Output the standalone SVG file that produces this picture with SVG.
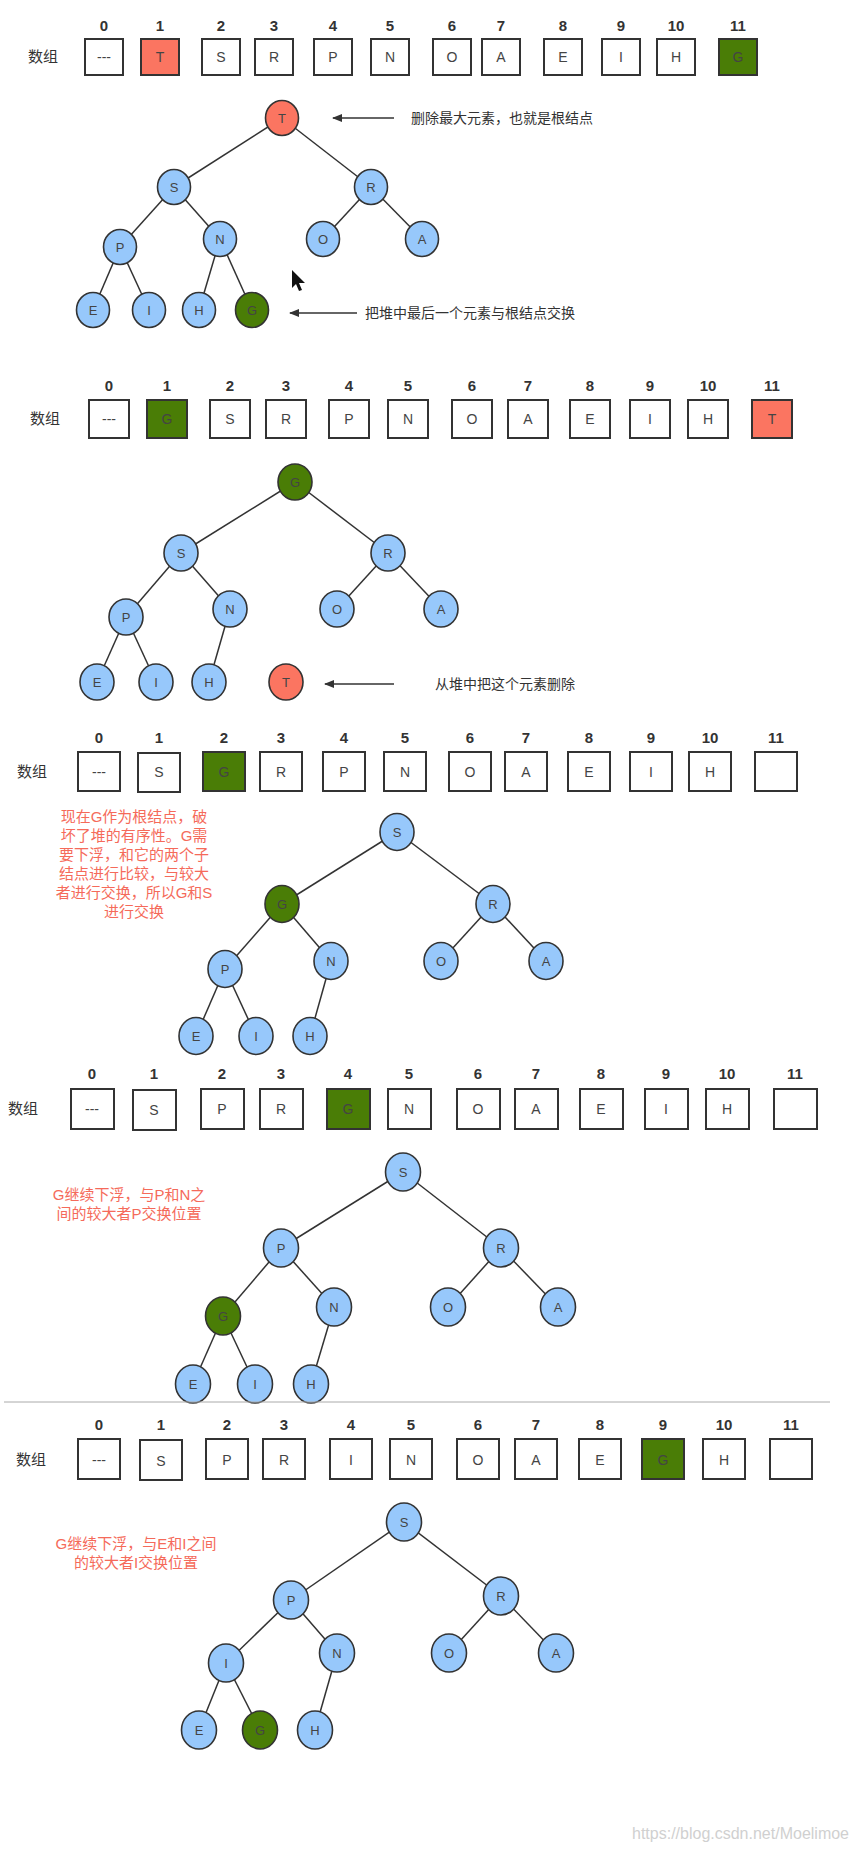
<svg xmlns="http://www.w3.org/2000/svg" width="849" height="1852" viewBox="0 0 849 1852">
<style>
text{font-family:"Liberation Sans","Noto Sans CJK SC",sans-serif;fill:#333}
.idx{font-size:15px;font-weight:bold;text-anchor:middle}
.lbl{font-size:15px}
.bx{fill:#fff;stroke:#333;stroke-width:2}
.bx.g{fill:#4a7d06}.bx.r{fill:#fb7561}
.bt{font-size:14px;text-anchor:middle;dominant-baseline:central;fill:#444}
.n{stroke:#333;stroke-width:1.6;fill:#97c8fb}
.n.g{fill:#4a7d06}.n.r{fill:#fb7561}
.nt{font-size:13px;text-anchor:middle;dominant-baseline:central;fill:#444}
.e line{stroke:#333;stroke-width:1.5}
.ar{stroke:#333;stroke-width:2;marker-end:url(#ah)}
.note{font-size:14px;fill:#333}
.red{font-size:15px;fill:#f56a5a;text-anchor:middle}
</style>
<defs><marker id="ah" markerWidth="10" markerHeight="8" refX="9" refY="4" orient="auto" markerUnits="userSpaceOnUse"><path d="M0,0 L10,4 L0,8 z" fill="#333"/></marker></defs>

<!-- Section 1 -->
<g id="s1-array">
<text class="lbl" x="28" y="62">数组</text>
<g class="idx-row"><text class="idx" x="104" y="31">0</text><text class="idx" x="160" y="31">1</text><text class="idx" x="221" y="31">2</text><text class="idx" x="274" y="31">3</text><text class="idx" x="333" y="31">4</text><text class="idx" x="390" y="31">5</text><text class="idx" x="452" y="31">6</text><text class="idx" x="501" y="31">7</text><text class="idx" x="563" y="31">8</text><text class="idx" x="621" y="31" font-weight="normal">9</text><text class="idx" x="676" y="31">10</text><text class="idx" x="738" y="31">11</text></g>
<rect class="bx" x="85" y="39" width="38" height="36"/><text class="bt" x="104" y="57">---</text>
<rect class="bx r" x="141" y="39" width="38" height="36"/><text class="bt" x="160" y="57">T</text>
<rect class="bx" x="202" y="39" width="38" height="36"/><text class="bt" x="221" y="57">S</text>
<rect class="bx" x="255" y="39" width="38" height="36"/><text class="bt" x="274" y="57">R</text>
<rect class="bx" x="314" y="39" width="38" height="36"/><text class="bt" x="333" y="57">P</text>
<rect class="bx" x="371" y="39" width="38" height="36"/><text class="bt" x="390" y="57">N</text>
<rect class="bx" x="433" y="39" width="38" height="36"/><text class="bt" x="452" y="57">O</text>
<rect class="bx" x="482" y="39" width="38" height="36"/><text class="bt" x="501" y="57">A</text>
<rect class="bx" x="544" y="39" width="38" height="36"/><text class="bt" x="563" y="57">E</text>
<rect class="bx" x="602" y="39" width="38" height="36"/><text class="bt" x="621" y="57">I</text>
<rect class="bx" x="657" y="39" width="38" height="36"/><text class="bt" x="676" y="57">H</text>
<rect class="bx g" x="719" y="39" width="38" height="36"/><text class="bt" x="738" y="57">G</text>
</g>
<g id="s1-edges" class="e">
<line x1="282" y1="118" x2="174" y2="187"/><line x1="282" y1="118" x2="371" y2="187"/>
<line x1="174" y1="187" x2="120" y2="247"/><line x1="174" y1="187" x2="220" y2="239"/>
<line x1="371" y1="187" x2="323" y2="239"/><line x1="371" y1="187" x2="422" y2="239"/>
<line x1="120" y1="247" x2="93" y2="310"/><line x1="120" y1="247" x2="149" y2="310"/>
<line x1="220" y1="239" x2="199" y2="310"/><line x1="220" y1="239" x2="252" y2="310"/>
<line class="ar" x1="394" y1="118" x2="333" y2="118"/><line class="ar" x1="357" y1="313" x2="290" y2="313"/>
</g>
<g id="s1-nodes">
<g id="s1-T"><ellipse class="n r" cx="282" cy="118" rx="16.5" ry="17.5"/><text class="nt" x="282" y="118">T</text></g>
<g id="s1-S"><ellipse class="n" cx="174" cy="187" rx="16.5" ry="17.5"/><text class="nt" x="174" y="187">S</text></g>
<g id="s1-R"><ellipse class="n" cx="371" cy="187" rx="16.5" ry="17.5"/><text class="nt" x="371" y="187">R</text></g>
<g id="s1-P"><ellipse class="n" cx="120" cy="247" rx="16.5" ry="17.5"/><text class="nt" x="120" y="247">P</text></g>
<g id="s1-N"><ellipse class="n" cx="220" cy="239" rx="16.5" ry="17.5"/><text class="nt" x="220" y="239">N</text></g>
<g id="s1-O"><ellipse class="n" cx="323" cy="239" rx="16.5" ry="17.5"/><text class="nt" x="323" y="239">O</text></g>
<g id="s1-A"><ellipse class="n" cx="422" cy="239" rx="16.5" ry="17.5"/><text class="nt" x="422" y="239">A</text></g>
<g id="s1-E"><ellipse class="n" cx="93" cy="310" rx="16.5" ry="17.5"/><text class="nt" x="93" y="310">E</text></g>
<g id="s1-I"><ellipse class="n" cx="149" cy="310" rx="16.5" ry="17.5"/><text class="nt" x="149" y="310">I</text></g>
<g id="s1-H"><ellipse class="n" cx="199" cy="310" rx="16.5" ry="17.5"/><text class="nt" x="199" y="310">H</text></g>
<g id="s1-G"><ellipse class="n g" cx="252" cy="310" rx="16.5" ry="17.5"/><text class="nt" x="252" y="310">G</text></g>
</g>
<text class="note" x="411" y="123">删除最大元素，也就是根结点</text>
<text class="note" x="365" y="318" font-size="13">把堆中最后一个元素与根结点交换</text>
<path d="M292,270 L292,288 L296,284 L299,291 L302,290 L299,283 L305,283 Z" fill="#111"/>

<!-- Section 2 -->
<g id="s2-array">
<text class="lbl" x="30" y="424">数组</text>
<g><text class="idx" x="109" y="391">0</text><text class="idx" x="167" y="391">1</text><text class="idx" x="230" y="391">2</text><text class="idx" x="286" y="391">3</text><text class="idx" x="349" y="391">4</text><text class="idx" x="408" y="391">5</text><text class="idx" x="472" y="391">6</text><text class="idx" x="528" y="391">7</text><text class="idx" x="590" y="391">8</text><text class="idx" x="650" y="391" font-weight="normal">9</text><text class="idx" x="708" y="391">10</text><text class="idx" x="772" y="391">11</text></g>
<rect class="bx" x="89" y="400" width="40" height="38"/><text class="bt" x="109" y="419">---</text>
<rect class="bx g" x="147" y="400" width="40" height="38"/><text class="bt" x="167" y="419">G</text>
<rect class="bx" x="210" y="400" width="40" height="38"/><text class="bt" x="230" y="419">S</text>
<rect class="bx" x="266" y="400" width="40" height="38"/><text class="bt" x="286" y="419">R</text>
<rect class="bx" x="329" y="400" width="40" height="38"/><text class="bt" x="349" y="419">P</text>
<rect class="bx" x="388" y="400" width="40" height="38"/><text class="bt" x="408" y="419">N</text>
<rect class="bx" x="452" y="400" width="40" height="38"/><text class="bt" x="472" y="419">O</text>
<rect class="bx" x="508" y="400" width="40" height="38"/><text class="bt" x="528" y="419">A</text>
<rect class="bx" x="570" y="400" width="40" height="38"/><text class="bt" x="590" y="419">E</text>
<rect class="bx" x="630" y="400" width="40" height="38"/><text class="bt" x="650" y="419">I</text>
<rect class="bx" x="688" y="400" width="40" height="38"/><text class="bt" x="708" y="419">H</text>
<rect class="bx r" x="752" y="400" width="40" height="38"/><text class="bt" x="772" y="419">T</text>
</g>
<g id="s2-edges" class="e">
<line x1="295" y1="482" x2="181" y2="553"/><line x1="295" y1="482" x2="388" y2="553"/>
<line x1="181" y1="553" x2="126" y2="617"/><line x1="181" y1="553" x2="230" y2="609"/>
<line x1="388" y1="553" x2="337" y2="609"/><line x1="388" y1="553" x2="441" y2="609"/>
<line x1="126" y1="617" x2="97" y2="682"/><line x1="126" y1="617" x2="156" y2="682"/>
<line x1="230" y1="609" x2="209" y2="682"/>
<line class="ar" x1="394" y1="684" x2="325" y2="684"/>
</g>
<g id="s2-nodes">
<g id="s2-G"><ellipse class="n g" cx="295" cy="482" rx="17" ry="18"/><text class="nt" x="295" y="482">G</text></g>
<g id="s2-S"><ellipse class="n" cx="181" cy="553" rx="17" ry="18"/><text class="nt" x="181" y="553">S</text></g>
<g id="s2-R"><ellipse class="n" cx="388" cy="553" rx="17" ry="18"/><text class="nt" x="388" y="553">R</text></g>
<g id="s2-P"><ellipse class="n" cx="126" cy="617" rx="17" ry="18"/><text class="nt" x="126" y="617">P</text></g>
<g id="s2-N"><ellipse class="n" cx="230" cy="609" rx="17" ry="18"/><text class="nt" x="230" y="609">N</text></g>
<g id="s2-O"><ellipse class="n" cx="337" cy="609" rx="17" ry="18"/><text class="nt" x="337" y="609">O</text></g>
<g id="s2-A"><ellipse class="n" cx="441" cy="609" rx="17" ry="18"/><text class="nt" x="441" y="609">A</text></g>
<g id="s2-E"><ellipse class="n" cx="97" cy="682" rx="17" ry="18"/><text class="nt" x="97" y="682">E</text></g>
<g id="s2-I"><ellipse class="n" cx="156" cy="682" rx="17" ry="18"/><text class="nt" x="156" y="682">I</text></g>
<g id="s2-H"><ellipse class="n" cx="209" cy="682" rx="17" ry="18"/><text class="nt" x="209" y="682">H</text></g>
<g id="s2-T"><ellipse class="n r" cx="286" cy="682" rx="17" ry="18"/><text class="nt" x="286" y="682">T</text></g>
</g>
<text class="note" x="435" y="689" font-size="13">从堆中把这个元素删除</text>

<!-- Section 3 -->
<g id="s3-array">
<text class="lbl" x="17" y="777">数组</text>
<g><text class="idx" x="99" y="743">0</text><text class="idx" x="159" y="743">1</text><text class="idx" x="224" y="743">2</text><text class="idx" x="281" y="743">3</text><text class="idx" x="344" y="743">4</text><text class="idx" x="405" y="743">5</text><text class="idx" x="470" y="743">6</text><text class="idx" x="526" y="743">7</text><text class="idx" x="589" y="743">8</text><text class="idx" x="651" y="743" font-weight="normal">9</text><text class="idx" x="710" y="743">10</text><text class="idx" x="776" y="743">11</text></g>
<rect class="bx" x="78" y="752" width="42" height="39"/><text class="bt" x="99" y="772">---</text>
<rect class="bx" x="138" y="753" width="42" height="39"/><text class="bt" x="159" y="772">S</text>
<rect class="bx g" x="203" y="752" width="42" height="39"/><text class="bt" x="224" y="772">G</text>
<rect class="bx" x="260" y="752" width="42" height="39"/><text class="bt" x="281" y="772">R</text>
<rect class="bx" x="323" y="752" width="42" height="39"/><text class="bt" x="344" y="772">P</text>
<rect class="bx" x="384" y="752" width="42" height="39"/><text class="bt" x="405" y="772">N</text>
<rect class="bx" x="449" y="752" width="42" height="39"/><text class="bt" x="470" y="772">O</text>
<rect class="bx" x="505" y="752" width="42" height="39"/><text class="bt" x="526" y="772">A</text>
<rect class="bx" x="568" y="752" width="42" height="39"/><text class="bt" x="589" y="772">E</text>
<rect class="bx" x="630" y="752" width="42" height="39"/><text class="bt" x="651" y="772">I</text>
<rect class="bx" x="689" y="752" width="42" height="39"/><text class="bt" x="710" y="772">H</text>
<rect class="bx" x="755" y="752" width="42" height="39"/>
</g>
<g id="s3-edges" class="e">
<line x1="397" y1="832" x2="282" y2="904"/><line x1="397" y1="832" x2="493" y2="904"/>
<line x1="282" y1="904" x2="225" y2="969"/><line x1="282" y1="904" x2="331" y2="961"/>
<line x1="493" y1="904" x2="441" y2="961"/><line x1="493" y1="904" x2="546" y2="961"/>
<line x1="225" y1="969" x2="196" y2="1036"/><line x1="225" y1="969" x2="256" y2="1036"/>
<line x1="331" y1="961" x2="310" y2="1036"/>
</g>
<g id="s3-nodes">
<g id="s3-S"><ellipse class="n" cx="397" cy="832" rx="17" ry="18.5"/><text class="nt" x="397" y="832">S</text></g>
<g id="s3-G"><ellipse class="n g" cx="282" cy="904" rx="17" ry="18.5"/><text class="nt" x="282" y="904">G</text></g>
<g id="s3-R"><ellipse class="n" cx="493" cy="904" rx="17" ry="18.5"/><text class="nt" x="493" y="904">R</text></g>
<g id="s3-P"><ellipse class="n" cx="225" cy="969" rx="17" ry="18.5"/><text class="nt" x="225" y="969">P</text></g>
<g id="s3-N"><ellipse class="n" cx="331" cy="961" rx="17" ry="18.5"/><text class="nt" x="331" y="961">N</text></g>
<g id="s3-O"><ellipse class="n" cx="441" cy="961" rx="17" ry="18.5"/><text class="nt" x="441" y="961">O</text></g>
<g id="s3-A"><ellipse class="n" cx="546" cy="961" rx="17" ry="18.5"/><text class="nt" x="546" y="961">A</text></g>
<g id="s3-E"><ellipse class="n" cx="196" cy="1036" rx="17" ry="18.5"/><text class="nt" x="196" y="1036">E</text></g>
<g id="s3-I"><ellipse class="n" cx="256" cy="1036" rx="17" ry="18.5"/><text class="nt" x="256" y="1036">I</text></g>
<g id="s3-H"><ellipse class="n" cx="310" cy="1036" rx="17" ry="18.5"/><text class="nt" x="310" y="1036">H</text></g>
</g>
<text class="red" x="134"><tspan x="134" y="822">现在G作为根结点，破</tspan><tspan x="134" y="841">坏了堆的有序性。G需</tspan><tspan x="134" y="860">要下浮，和它的两个子</tspan><tspan x="134" y="879">结点进行比较，与较大</tspan><tspan x="134" y="898">者进行交换，所以G和S</tspan><tspan x="134" y="917">进行交换</tspan></text>

<!-- Section 4 -->
<g id="s4-array">
<text class="lbl" x="8" y="1114">数组</text>
<g><text class="idx" x="92" y="1079">0</text><text class="idx" x="154" y="1079">1</text><text class="idx" x="222" y="1079">2</text><text class="idx" x="281" y="1079">3</text><text class="idx" x="348" y="1079">4</text><text class="idx" x="409" y="1079">5</text><text class="idx" x="478" y="1079">6</text><text class="idx" x="536" y="1079">7</text><text class="idx" x="601" y="1079">8</text><text class="idx" x="666" y="1079" font-weight="normal">9</text><text class="idx" x="727" y="1079">10</text><text class="idx" x="795" y="1079">11</text></g>
<rect class="bx" x="71" y="1089" width="43" height="40"/><text class="bt" x="92" y="1109">---</text>
<rect class="bx" x="133" y="1090" width="43" height="40"/><text class="bt" x="154" y="1110">S</text>
<rect class="bx" x="201" y="1089" width="43" height="40"/><text class="bt" x="222" y="1109">P</text>
<rect class="bx" x="260" y="1089" width="43" height="40"/><text class="bt" x="281" y="1109">R</text>
<rect class="bx g" x="327" y="1089" width="43" height="40"/><text class="bt" x="348" y="1109">G</text>
<rect class="bx" x="388" y="1089" width="43" height="40"/><text class="bt" x="409" y="1109">N</text>
<rect class="bx" x="457" y="1089" width="43" height="40"/><text class="bt" x="478" y="1109">O</text>
<rect class="bx" x="515" y="1089" width="43" height="40"/><text class="bt" x="536" y="1109">A</text>
<rect class="bx" x="580" y="1089" width="43" height="40"/><text class="bt" x="601" y="1109">E</text>
<rect class="bx" x="645" y="1089" width="43" height="40"/><text class="bt" x="666" y="1109">I</text>
<rect class="bx" x="706" y="1089" width="43" height="40"/><text class="bt" x="727" y="1109">H</text>
<rect class="bx" x="774" y="1089" width="43" height="40"/>
</g>
<g id="s4-edges" class="e">
<line x1="403" y1="1172" x2="281" y2="1248"/><line x1="403" y1="1172" x2="501" y2="1248"/>
<line x1="281" y1="1248" x2="223" y2="1316"/><line x1="281" y1="1248" x2="334" y2="1307"/>
<line x1="501" y1="1248" x2="448" y2="1307"/><line x1="501" y1="1248" x2="558" y2="1307"/>
<line x1="223" y1="1316" x2="193" y2="1384"/><line x1="223" y1="1316" x2="255" y2="1384"/>
<line x1="334" y1="1307" x2="311" y2="1384"/>
</g>
<g id="s4-nodes">
<g id="s4-S"><ellipse class="n" cx="403" cy="1172" rx="17.5" ry="19"/><text class="nt" x="403" y="1172">S</text></g>
<g id="s4-P"><ellipse class="n" cx="281" cy="1248" rx="17.5" ry="19"/><text class="nt" x="281" y="1248">P</text></g>
<g id="s4-R"><ellipse class="n" cx="501" cy="1248" rx="17.5" ry="19"/><text class="nt" x="501" y="1248">R</text></g>
<g id="s4-G"><ellipse class="n g" cx="223" cy="1316" rx="17.5" ry="19"/><text class="nt" x="223" y="1316">G</text></g>
<g id="s4-N"><ellipse class="n" cx="334" cy="1307" rx="17.5" ry="19"/><text class="nt" x="334" y="1307">N</text></g>
<g id="s4-O"><ellipse class="n" cx="448" cy="1307" rx="17.5" ry="19"/><text class="nt" x="448" y="1307">O</text></g>
<g id="s4-A"><ellipse class="n" cx="558" cy="1307" rx="17.5" ry="19"/><text class="nt" x="558" y="1307">A</text></g>
<g id="s4-E"><ellipse class="n" cx="193" cy="1384" rx="17.5" ry="19"/><text class="nt" x="193" y="1384">E</text></g>
<g id="s4-I"><ellipse class="n" cx="255" cy="1384" rx="17.5" ry="19"/><text class="nt" x="255" y="1384">I</text></g>
<g id="s4-H"><ellipse class="n" cx="311" cy="1384" rx="17.5" ry="19"/><text class="nt" x="311" y="1384">H</text></g>
</g>
<text class="red"><tspan x="129" y="1200">G继续下浮，与P和N之</tspan><tspan x="129" y="1219">间的较大者P交换位置</tspan></text>

<line x1="4" y1="1402" x2="830" y2="1402" stroke="#aaa" stroke-width="1"/>

<!-- Section 5 -->
<g id="s5-array">
<text class="lbl" x="16" y="1465">数组</text>
<g><text class="idx" x="99" y="1430">0</text><text class="idx" x="161" y="1430">1</text><text class="idx" x="227" y="1430">2</text><text class="idx" x="284" y="1430">3</text><text class="idx" x="351" y="1430">4</text><text class="idx" x="411" y="1430">5</text><text class="idx" x="478" y="1430">6</text><text class="idx" x="536" y="1430">7</text><text class="idx" x="600" y="1430">8</text><text class="idx" x="663" y="1430" font-weight="normal">9</text><text class="idx" x="724" y="1430">10</text><text class="idx" x="791" y="1430">11</text></g>
<rect class="bx" x="78" y="1439" width="42" height="40"/><text class="bt" x="99" y="1460">---</text>
<rect class="bx" x="140" y="1440" width="42" height="40"/><text class="bt" x="161" y="1461">S</text>
<rect class="bx" x="206" y="1439" width="42" height="40"/><text class="bt" x="227" y="1460">P</text>
<rect class="bx" x="263" y="1439" width="42" height="40"/><text class="bt" x="284" y="1460">R</text>
<rect class="bx" x="330" y="1439" width="42" height="40"/><text class="bt" x="351" y="1460">I</text>
<rect class="bx" x="390" y="1439" width="42" height="40"/><text class="bt" x="411" y="1460">N</text>
<rect class="bx" x="457" y="1439" width="42" height="40"/><text class="bt" x="478" y="1460">O</text>
<rect class="bx" x="515" y="1439" width="42" height="40"/><text class="bt" x="536" y="1460">A</text>
<rect class="bx" x="579" y="1439" width="42" height="40"/><text class="bt" x="600" y="1460">E</text>
<rect class="bx g" x="642" y="1439" width="42" height="40"/><text class="bt" x="663" y="1460">G</text>
<rect class="bx" x="703" y="1439" width="42" height="40"/><text class="bt" x="724" y="1460">H</text>
<rect class="bx" x="770" y="1439" width="42" height="40"/>
</g>
<g id="s5-edges" class="e">
<line x1="404" y1="1522" x2="291" y2="1600"/><line x1="404" y1="1522" x2="501" y2="1596"/>
<line x1="291" y1="1600" x2="226" y2="1663"/><line x1="291" y1="1600" x2="337" y2="1653"/>
<line x1="501" y1="1596" x2="449" y2="1653"/><line x1="501" y1="1596" x2="556" y2="1653"/>
<line x1="226" y1="1663" x2="199" y2="1730"/><line x1="226" y1="1663" x2="260" y2="1730"/>
<line x1="337" y1="1653" x2="315" y2="1730"/>
</g>
<g id="s5-nodes">
<g id="s5-S"><ellipse class="n" cx="404" cy="1522" rx="17.5" ry="19"/><text class="nt" x="404" y="1522">S</text></g>
<g id="s5-P"><ellipse class="n" cx="291" cy="1600" rx="17.5" ry="19"/><text class="nt" x="291" y="1600">P</text></g>
<g id="s5-R"><ellipse class="n" cx="501" cy="1596" rx="17.5" ry="19"/><text class="nt" x="501" y="1596">R</text></g>
<g id="s5-I"><ellipse class="n" cx="226" cy="1663" rx="17.5" ry="19"/><text class="nt" x="226" y="1663">I</text></g>
<g id="s5-N"><ellipse class="n" cx="337" cy="1653" rx="17.5" ry="19"/><text class="nt" x="337" y="1653">N</text></g>
<g id="s5-O"><ellipse class="n" cx="449" cy="1653" rx="17.5" ry="19"/><text class="nt" x="449" y="1653">O</text></g>
<g id="s5-A"><ellipse class="n" cx="556" cy="1653" rx="17.5" ry="19"/><text class="nt" x="556" y="1653">A</text></g>
<g id="s5-E"><ellipse class="n" cx="199" cy="1730" rx="17.5" ry="19"/><text class="nt" x="199" y="1730">E</text></g>
<g id="s5-G"><ellipse class="n g" cx="260" cy="1730" rx="17.5" ry="19"/><text class="nt" x="260" y="1730">G</text></g>
<g id="s5-H"><ellipse class="n" cx="315" cy="1730" rx="17.5" ry="19"/><text class="nt" x="315" y="1730">H</text></g>
</g>
<text class="red"><tspan x="136" y="1549">G继续下浮，与E和I之间</tspan><tspan x="136" y="1568">的较大者I交换位置</tspan></text>

<text x="632" y="1839" font-size="16" style="fill:#d0d0d0">https://blog.csdn.net/Moelimoe</text>
</svg>
